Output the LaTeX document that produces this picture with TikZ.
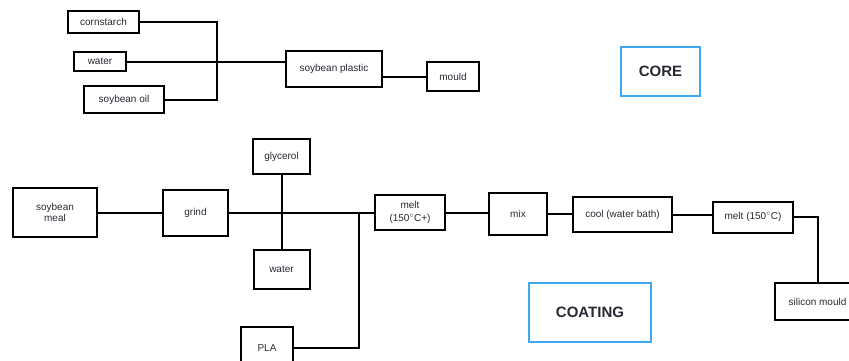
\documentclass[tikz,border=0pt]{standalone}
\usepackage{fontspec}
\setmainfont{Liberation Sans}
\definecolor{coreblue}{RGB}{64,168,240}
\definecolor{txt}{RGB}{40,40,50}
\begin{document}
\begin{tikzpicture}[x=1pt,y=-1pt,
  box/.style={draw=black, line width=2pt, inner sep=0pt, align=center, text=txt,
    font=\fontsize{10}{11.5}\selectfont},
  label box/.style={draw=coreblue, line width=2pt, inner sep=0pt, text=txt,
    font=\fontsize{15}{17}\selectfont\bfseries},
  link/.style={line width=2pt, draw=black}]
\useasboundingbox (0,0) rectangle (849,360);
\clip (0,0) rectangle (849,360);
% CORE part
\node[box, minimum width=71pt, minimum height=22pt] (cornstarch) at (103.5,22) {cornstarch};
\node[box, minimum width=52pt, minimum height=19pt] (water1) at (100,61.5) {water};
\node[box, minimum width=80pt, minimum height=27pt] (soyoil) at (124,99.5) {soybean oil};
\node[box, minimum width=96pt, minimum height=36pt] (soyplastic) at (334,69) {soybean plastic};
\node[box, minimum width=52pt, minimum height=29pt] (mould) at (453,76.5) {mould};
\node[label box, minimum width=79pt, minimum height=49pt] (core) at (660.5,71.5) {CORE};
\coordinate (cj) at (217,61.5);
\draw[link] (cornstarch.east) -| (cj) |- (soyoil.east);
\draw[link] (water1.east) -- (water1.east -| soyplastic.west);
\draw[link] (mould.west -| soyplastic.east) -- (mould.west);
% COATING part
\node[box, minimum width=84pt, minimum height=49pt] (soymeal) at (55,212.5) {soybean\\meal};
\node[box, minimum width=65pt, minimum height=46pt] (grind) at (195.5,212.5) {grind};
\node[box, minimum width=57pt, minimum height=35pt] (glycerol) at (281.5,156.5) {glycerol};
\node[box, minimum width=56pt, minimum height=39pt] (water2) at (281.5,269.5) {water};
\node[box, minimum width=52pt, minimum height=42pt] (pla) at (267,348) {PLA};
\node[box, minimum width=70pt, minimum height=35pt] (melt1) at (410,212.5) {melt\\[1pt](150$^{\circ}$C+)};
\node[box, minimum width=58pt, minimum height=42pt] (mix) at (518,214) {mix};
\node[box, minimum width=99pt, minimum height=35pt] (cool) at (622.5,214.5) {cool (water bath)};
\node[box, minimum width=80pt, minimum height=31pt] (melt2) at (753,217) {melt (150$^{\circ}$C)};
\node[box, minimum width=85pt, minimum height=37pt] (silicon) at (817.5,301.5) {silicon mould};
\node[label box, minimum width=122pt, minimum height=59pt] (coating) at (590,312.5) {COATING};
\coordinate (pj) at (359,212.5);
\draw[link] (soymeal.east) -- (grind.west);
\draw[link] (grind.east) -- (melt1.west);
\draw[link] (glycerol.south) -- (water2.north);
\draw[link] (pla.east) -| (pj);
\draw[link] (melt1.east) -- (melt1.east -| mix.west);
\draw[link] (mix.east) -- (mix.east -| cool.west);
\draw[link] (cool.east) -- (cool.east -| melt2.west);
\draw[link] (melt2.east) -| (silicon.north);
\end{tikzpicture}
\end{document}
